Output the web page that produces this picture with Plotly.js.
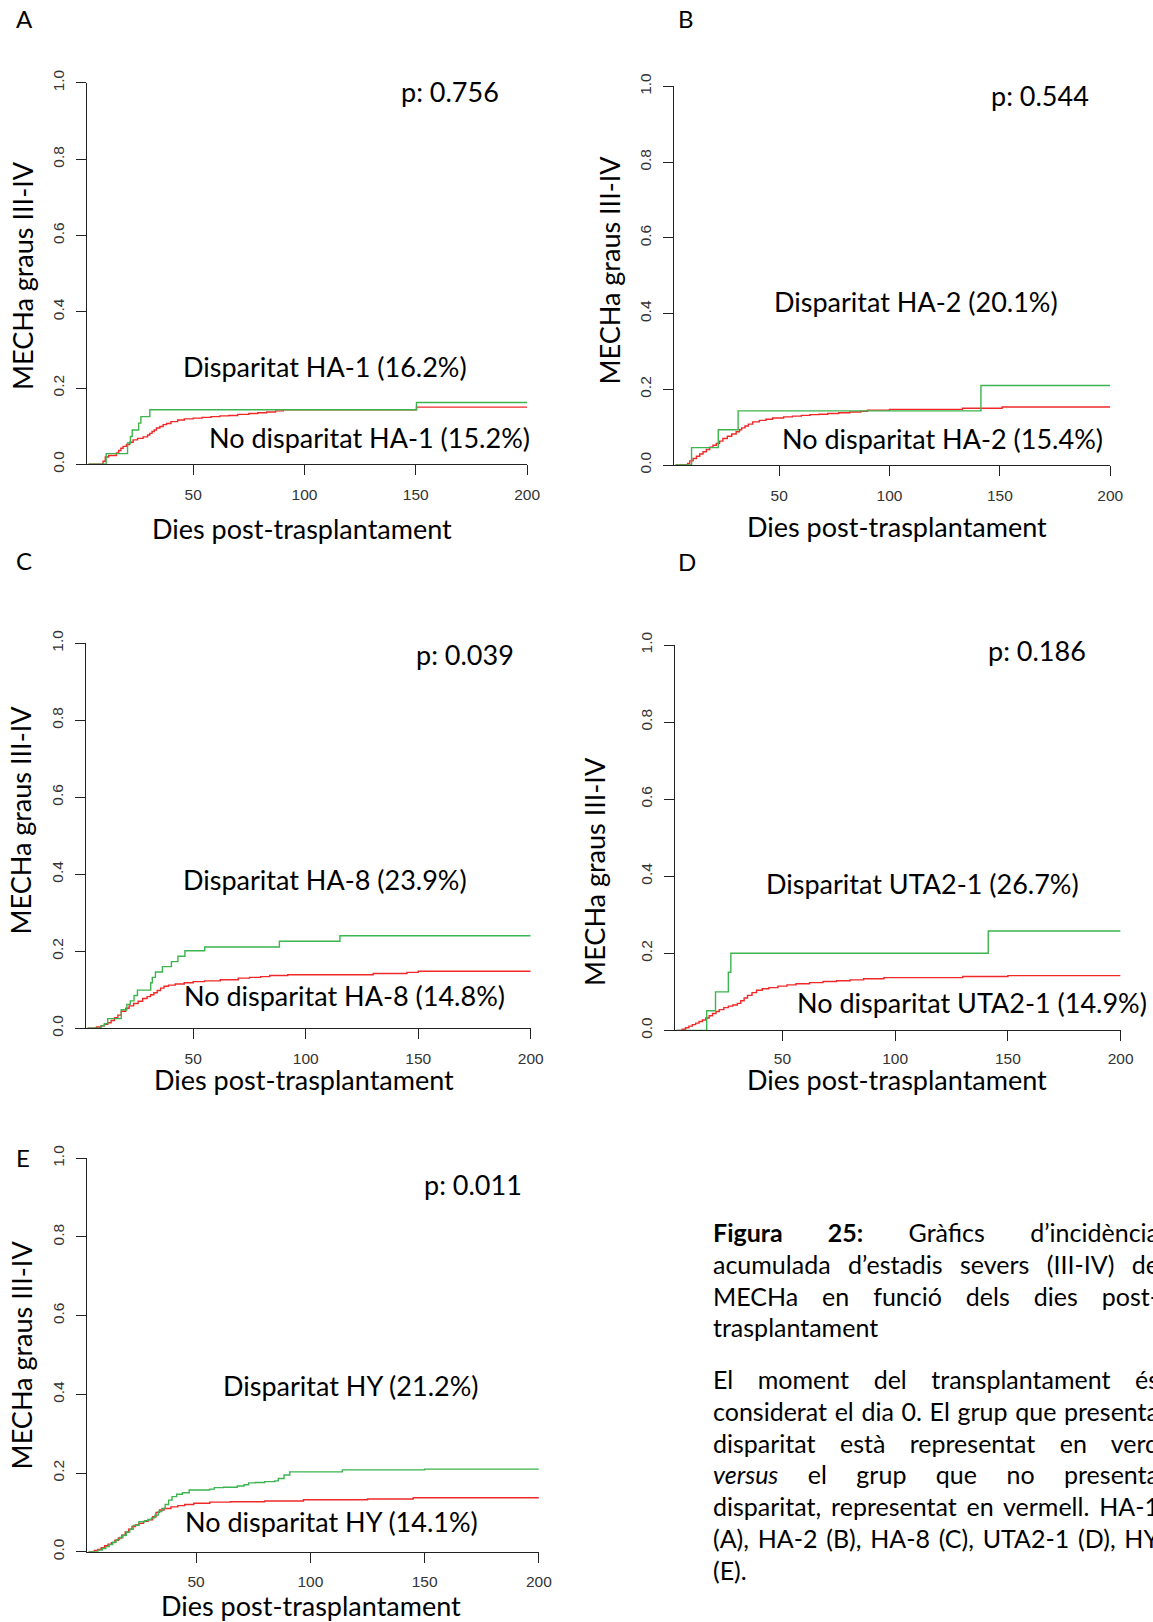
<!DOCTYPE html>
<html>
<head>
<meta charset="utf-8">
<script src="https://cdn.plot.ly/plotly-3.0.1.min.js"></script>
<style>
  html, body { margin: 0; padding: 0; background: #fff; overflow: hidden; width: 1153px; height: 1622px; }
  #chart { position: absolute; left: 0; top: 0; width: 1153px; height: 1622px; }
  #caption { position: absolute; left: 713px; width: 446px; font-family: Lato, sans-serif; font-size: 25px; color: #000; white-space: nowrap; }
  #caption .ln { height: 31.8px; line-height: 31.8px; text-align: justify; text-align-last: justify; white-space: normal; }
  #caption .last { text-align-last: left; }
  #p1 { top: 1217px; }
  #p2 { top: 1364px; }
</style>
</head>
<body>
<div id="chart"></div>
<div id="caption">
  <div id="p1" style="position:absolute;left:0;width:446px">
    <div class="ln"><b>Figura 25:</b> Gràfics d’incidència</div>
    <div class="ln">acumulada d’estadis severs (III-IV) de</div>
    <div class="ln">MECHa en funció dels dies post-</div>
    <div class="ln last">trasplantament</div>
  </div>
  <div id="p2" style="position:absolute;left:0;width:446px">
    <div class="ln">El moment del transplantament és</div>
    <div class="ln">considerat el dia 0. El grup que presenta</div>
    <div class="ln">disparitat està representat en verd</div>
    <div class="ln"><i>versus</i> el grup que no presenta</div>
    <div class="ln">disparitat, representat en vermell. HA-1</div>
    <div class="ln">(A), HA-2 (B), HA-8 (C), UTA2-1 (D), HY</div>
    <div class="ln last">(E).</div>
  </div>
</div>
<script>
// ---------------- DATA ----------------
const xTicks = [50, 100, 150, 200];
const yTicks = [0, 0.2, 0.4, 0.6, 0.8, 1.0];
const yTickText = ['0.0', '0.2', '0.4', '0.6', '0.8', '1.0'];

const panelLetters = ['A', 'B', 'C', 'D', 'E'];
const pValues = ['p: 0.756', 'p: 0.544', 'p: 0.039', 'p: 0.186', 'p: 0.011'];
const labelsDisparity = ['Disparitat HA-1 (16.2%)', 'Disparitat HA-2 (20.1%)', 'Disparitat HA-8 (23.9%)', 'Disparitat UTA2-1 (26.7%)', 'Disparitat HY (21.2%)'];
const labelsNoDisparity = ['No disparitat HA-1 (15.2%)', 'No disparitat HA-2 (15.4%)', 'No disparitat HA-8 (14.8%)', 'No disparitat UTA2-1 (14.9%)', 'No disparitat HY (14.1%)'];
const yTitle = 'MECHa graus III-IV';
const xTitle = 'Dies post-trasplantament';

// Panel A (HA-1)
const daysA_dis = [3, 10.9, 20.5, 21.8, 22.6, 25.5, 26.5, 30.5, 150.3, 200];
const cifA_dis  = [0, 0.028, 0.056, 0.073, 0.090, 0.108, 0.125, 0.143, 0.162, 0.162];
const daysA_no = [3, 9.5, 10.5, 12, 15.5, 16.5, 17.5, 18.5, 20, 21.5, 23, 25, 27.5, 29.5, 30.5, 31.5, 32.5, 33.5, 35, 36.5, 38, 40, 43, 46, 50, 54, 58, 62, 66, 70, 75, 79, 83, 87, 90.5, 150.3, 200];
const cifA_no  = [0, 0.008, 0.019, 0.023, 0.030, 0.036, 0.042, 0.047, 0.052, 0.058, 0.064, 0.068, 0.072, 0.077, 0.081, 0.086, 0.090, 0.095, 0.099, 0.104, 0.107, 0.112, 0.116, 0.119, 0.121, 0.123, 0.125, 0.127, 0.128, 0.131, 0.133, 0.135, 0.137, 0.140, 0.143, 0.150, 0.150];

// Panel B (HA-2)
const daysB_dis = [3, 10.3, 22.4, 31.4, 141.4, 200];
const cifB_dis  = [0, 0.046, 0.093, 0.143, 0.210, 0.210];
const daysB_no = [3, 8.5, 9.5, 11, 12.5, 14, 15.5, 17, 18.5, 20, 21.5, 23, 24.5, 26.5, 28.5, 30.5, 32, 33, 34.5, 36, 38, 41, 44, 47, 52, 56, 60, 64, 68, 72, 77, 82, 87, 90, 100, 133, 151, 200];
const cifB_no  = [0, 0.004, 0.011, 0.017, 0.023, 0.029, 0.035, 0.041, 0.047, 0.052, 0.057, 0.063, 0.070, 0.076, 0.082, 0.088, 0.093, 0.098, 0.103, 0.108, 0.114, 0.118, 0.121, 0.124, 0.127, 0.129, 0.131, 0.133, 0.134, 0.136, 0.138, 0.140, 0.142, 0.145, 0.147, 0.150, 0.153, 0.153];

// Panel C (HA-8)
const daysC_dis = [3, 9, 10.5, 12, 18, 20.5, 22, 23.7, 25.2, 31.1, 31.8, 33.2, 36.3, 40.3, 43.2, 46.3, 55.1, 88.3, 115.2, 200];
const cifC_dis  = [0, 0.006, 0.012, 0.025, 0.048, 0.062, 0.071, 0.085, 0.099, 0.118, 0.132, 0.146, 0.160, 0.173, 0.187, 0.201, 0.211, 0.226, 0.240, 0.240];
const daysC_no = [3, 7, 9, 10.5, 12, 13.5, 15, 16.5, 18, 20, 21.5, 23.5, 25.5, 27.5, 29.5, 31, 32.5, 34, 35.5, 37, 39, 42, 46, 50, 55, 62, 70, 75, 80, 84, 92, 130, 145, 150, 200];
const cifC_no  = [0, 0.003, 0.006, 0.010, 0.014, 0.020, 0.027, 0.034, 0.044, 0.052, 0.058, 0.064, 0.070, 0.077, 0.082, 0.087, 0.092, 0.098, 0.104, 0.109, 0.112, 0.115, 0.118, 0.121, 0.123, 0.126, 0.130, 0.132, 0.134, 0.137, 0.139, 0.142, 0.145, 0.148, 0.148];

// Panel D (UTA2-1)
const daysD_dis = [3, 16.4, 20.3, 26, 27.1, 141.3, 200];
const cifD_dis  = [0, 0.051, 0.100, 0.151, 0.200, 0.258, 0.258];
const daysD_no = [3, 5.5, 7, 8.5, 10, 11.5, 13, 14.5, 16, 17.5, 19, 20.5, 22, 24, 26, 28, 30, 31.5, 33, 34.5, 36.5, 38.5, 41, 44, 48, 52, 56, 62, 68, 74, 80, 86, 95, 130, 150, 200];
const cifD_no  = [0, 0.003, 0.007, 0.011, 0.015, 0.019, 0.023, 0.027, 0.032, 0.038, 0.044, 0.049, 0.054, 0.059, 0.063, 0.066, 0.070, 0.077, 0.084, 0.091, 0.098, 0.104, 0.108, 0.111, 0.115, 0.118, 0.121, 0.124, 0.127, 0.129, 0.131, 0.134, 0.137, 0.140, 0.142, 0.142];

// Panel E (HY)
const daysE_dis = [3, 7, 9, 10.5, 12, 13.5, 15, 16.5, 18, 19.5, 21, 22.5, 25, 27.5, 29, 30.5, 32, 33.5, 35, 36.5, 38, 39.5, 41.5, 44, 47, 56, 58, 62, 68, 71, 73, 76, 80, 84.5, 86, 88.5, 91, 114, 150, 200];
const cifE_dis  = [0, 0.004, 0.008, 0.013, 0.018, 0.024, 0.030, 0.036, 0.042, 0.050, 0.057, 0.067, 0.076, 0.079, 0.082, 0.086, 0.093, 0.102, 0.110, 0.120, 0.131, 0.140, 0.146, 0.150, 0.157, 0.159, 0.163, 0.164, 0.167, 0.170, 0.175, 0.176, 0.178, 0.180, 0.186, 0.195, 0.203, 0.208, 0.210, 0.210];
const daysE_no = [3, 5.5, 7, 8.5, 10, 11.5, 13, 14.5, 16, 17.5, 19, 20.5, 22, 23.5, 25, 27, 29, 31, 32.5, 34, 36, 39, 42, 45, 49, 56, 65, 80, 97, 125, 145, 200];
const cifE_no  = [0, 0.003, 0.006, 0.010, 0.015, 0.019, 0.023, 0.029, 0.035, 0.042, 0.050, 0.057, 0.064, 0.068, 0.072, 0.077, 0.081, 0.089, 0.100, 0.106, 0.110, 0.114, 0.117, 0.120, 0.123, 0.126, 0.127, 0.129, 0.132, 0.134, 0.137, 0.137];

const seriesDis = [[daysA_dis, cifA_dis], [daysB_dis, cifB_dis], [daysC_dis, cifC_dis], [daysD_dis, cifD_dis], [daysE_dis, cifE_dis]];
const seriesNo  = [[daysA_no, cifA_no], [daysB_no, cifB_no], [daysC_no, cifC_no], [daysD_no, cifD_no], [daysE_no, cifE_no]];

// ---------------- LAYOUT (pixel geometry) ----------------
const W = 1153, H = 1622;
const GREEN = '#3cb44f', RED = '#f02828';
// plot boxes: left, right, top(y=1), bottom(y=0), x range start, x tick label standoff
const boxes = [
  {l: 87.1,  r: 527.1,  t: 82.9,   b: 464.3,  x0: 2.33, so: 6},
  {l: 673.9, r: 1110.3, t: 86.4,   b: 465.0,  x0: 2.3,  so: 6},
  {l: 85.7,  r: 530.7,  t: 643.2,  b: 1028.2, x0: 2.2,  so: 6},
  {l: 674.7, r: 1120.6, t: 645.0,  b: 1030.4, x0: 2.2,  so: 4},
  {l: 86.8,  r: 538.9,  t: 1158.3, b: 1551.7, x0: 2.2,  so: 6}
];
// text centres in pixels: p-value, disparity, no disparity, y title, x title, letter
const textPos = [
  {p: [450, 91.6],    d: [325.4, 366.4], n: [369.8, 437.8], yt: [23.2, 275.9],  xt: [302.3, 528.4],  lt: [24.5, 18.3]},
  {p: [1040, 95.1],   d: [915.5, 301.4], n: [942.8, 438.5], yt: [609, 270.5],   xt: [896.7, 526.6],  lt: [686, 18.3]},
  {p: [464.8, 654.6], d: [325.4, 879.6], n: [344.6, 995.6], yt: [19.6, 820],    xt: [303.9, 1079.6], lt: [24, 560.4]},
  {p: [1036.5, 650.5],d: [922.8, 883.1], n: [972, 1002.8],  yt: [594.6, 871.3], xt: [896.7, 1079.5], lt: [687, 561]},
  {p: [472.7, 1184],  d: [351.3, 1385.2],n: [331.3, 1521.8],yt: [21.4, 1355],   xt: [311, 1605.8],   lt: [23, 1157]}
];

const px = x => x / W;
const py = y => 1 - y / H;
const TXT = 'Lato, sans-serif';
const BIG = 27;

const traces = [];
const layout = {
  width: W, height: H,
  margin: {l: 0, r: 0, t: 0, b: 0},
  paper_bgcolor: '#fff', plot_bgcolor: 'rgba(0,0,0,0)',
  showlegend: false,
  annotations: [],
  font: {family: TXT, color: '#000'}
};

boxes.forEach((bx, i) => {
  const n = i + 1;
  const xa = n === 1 ? 'x' : 'x' + n;
  const ya = n === 1 ? 'y' : 'y' + n;
  const xk = n === 1 ? 'xaxis' : 'xaxis' + n;
  const yk = n === 1 ? 'yaxis' : 'yaxis' + n;

  traces.push({
    x: seriesNo[i][0], y: seriesNo[i][1], xaxis: xa, yaxis: ya,
    type: 'scatter', mode: 'lines', line: {shape: 'hv', color: RED, width: 1.4},
    cliponaxis: false, hoverinfo: 'skip', name: labelsNoDisparity[i]
  });
  traces.push({
    x: seriesDis[i][0], y: seriesDis[i][1], xaxis: xa, yaxis: ya,
    type: 'scatter', mode: 'lines', line: {shape: 'hv', color: GREEN, width: 1.4},
    cliponaxis: false, hoverinfo: 'skip', name: labelsDisparity[i]
  });

  layout[xk] = {
    domain: [px(bx.l), px(bx.r)], range: [bx.x0, 200], anchor: ya,
    showline: true, linecolor: '#222', linewidth: 1,
    ticks: 'outside', ticklen: 10, tickwidth: 1, tickcolor: '#222',
    tickvals: xTicks, ticktext: xTicks.map(String),
    tickfont: {family: 'Liberation Sans, Arial, sans-serif', size: 15.5, color: '#333'},
    ticklabelstandoff: bx.so,
    showgrid: false, zeroline: false, fixedrange: true
  };
  layout[yk] = {
    domain: [py(bx.b), py(bx.t)], range: [0, 1], anchor: xa,
    showline: true, linecolor: '#222', linewidth: 1,
    ticks: 'outside', ticklen: 10, tickwidth: 1, tickcolor: '#222',
    tickvals: yTicks, ticktext: yTickText, tickangle: -90,
    tickfont: {family: 'Liberation Sans, Arial, sans-serif', size: 15.5, color: '#333'},
    ticklabelstandoff: 6,
    showgrid: false, zeroline: false, fixedrange: true
  };

  const tp = textPos[i];
  const ann = (pos, text, size, extra) => Object.assign({
    xref: 'paper', yref: 'paper', x: px(pos[0]), y: py(pos[1]),
    xanchor: 'center', yanchor: 'middle', showarrow: false, text: text,
    font: {family: TXT, size: size, color: '#000'}
  }, extra || {});
  layout.annotations.push(ann(tp.p, pValues[i], BIG));
  layout.annotations.push(ann(tp.d, labelsDisparity[i], BIG));
  layout.annotations.push(ann(tp.n, labelsNoDisparity[i], BIG));
  layout.annotations.push(ann(tp.yt, yTitle, BIG, {textangle: -90}));
  layout.annotations.push(ann(tp.xt, xTitle, BIG));
  layout.annotations.push(ann(tp.lt, panelLetters[i], 24));
});

Plotly.newPlot('chart', traces, layout, {staticPlot: true, displayModeBar: false});
</script>
</body>
</html>
